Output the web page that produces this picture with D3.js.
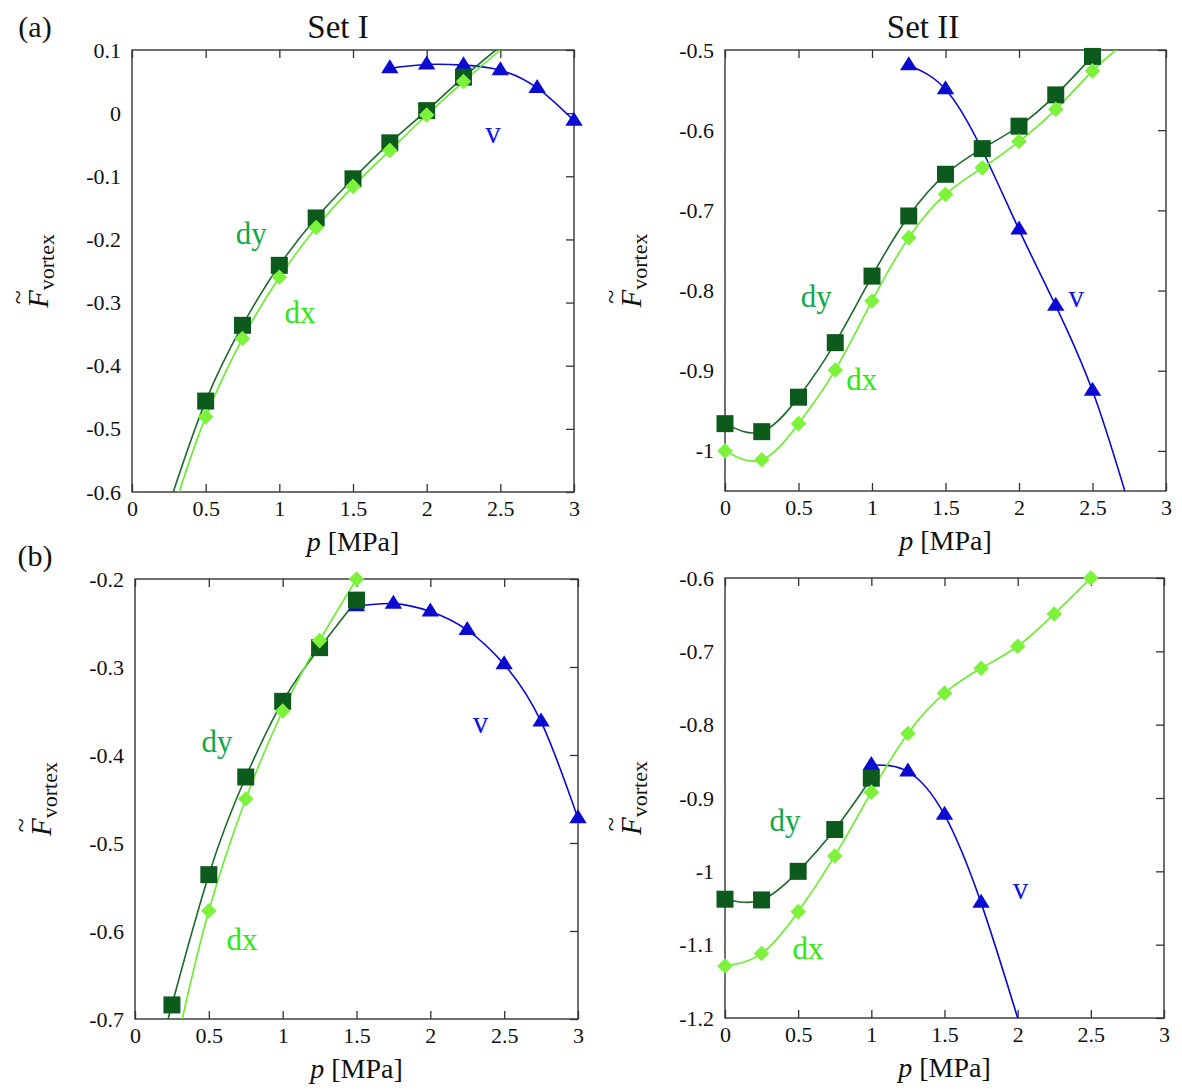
<!DOCTYPE html>
<html>
<head>
<meta charset="utf-8">
<script src="https://cdn.jsdelivr.net/npm/d3@7"></script>
<style>
  body { margin: 0; background: #fff; }
  text { font-family: "Liberation Serif", "Times New Roman", serif; }
</style>
</head>
<body>
<svg id="fig" width="1182" height="1092"></svg>
<script>
// ---- data ----
const xTickValues = [0, 0.5, 1, 1.5, 2, 2.5, 3];
const xTickLabels = ["0", "0.5", "1", "1.5", "2", "2.5", "3"];

// (a) Set I
const aI_yTicks = [0.1, 0, -0.1, -0.2, -0.3, -0.4, -0.5, -0.6];
const aI_yLabels = ["0.1", "0", "-0.1", "-0.2", "-0.3", "-0.4", "-0.5", "-0.6"];
const aI_dy_p = [0.5, 0.75, 1, 1.25, 1.5, 1.75, 2, 2.25];
const aI_dy = [-0.456, -0.336, -0.241, -0.166, -0.104, -0.047, 0.004, 0.057];
const aI_dx_p = [0.5, 0.75, 1, 1.25, 1.5, 1.75, 2, 2.25];
const aI_dx = [-0.481, -0.357, -0.26, -0.181, -0.116, -0.059, -0.003, 0.05];
const aI_v_p = [1.75, 2, 2.25, 2.5, 2.75, 3];
const aI_v = [0.071, 0.077, 0.076, 0.068, 0.04, -0.012];
// where the fitted curves leave the frame
const aI_dy_ends = [[0.28, -0.6], [2.47, 0.1]];
const aI_dx_ends = [[0.32, -0.6], [2.5, 0.1]];

// (a) Set II
const aII_yTicks = [-0.5, -0.6, -0.7, -0.8, -0.9, -1];
const aII_yLabels = ["-0.5", "-0.6", "-0.7", "-0.8", "-0.9", "-1"];
const aII_dy_p = [0, 0.25, 0.5, 0.75, 1, 1.25, 1.5, 1.75, 2, 2.25, 2.5];
const aII_dy = [-0.966, -0.976, -0.933, -0.865, -0.782, -0.707, -0.655, -0.623, -0.595, -0.556, -0.508];
const aII_dx_p = [0, 0.25, 0.5, 0.75, 1, 1.25, 1.5, 1.75, 2, 2.25, 2.5];
const aII_dx = [-1.0, -1.011, -0.966, -0.899, -0.813, -0.734, -0.68, -0.647, -0.614, -0.574, -0.526];
const aII_v_p = [1.25, 1.5, 1.75, 2, 2.25, 2.5];
const aII_v = [-0.519, -0.549, -0.625, -0.724, -0.819, -0.925];
const aII_dy_ends = [null, [2.54, -0.5]];
const aII_dx_ends = [null, [2.66, -0.5]];
const aII_v_ends = [null, [2.72, -1.05]];

// (b) Set I
const bI_yTicks = [-0.2, -0.3, -0.4, -0.5, -0.6, -0.7];
const bI_yLabels = ["-0.2", "-0.3", "-0.4", "-0.5", "-0.6", "-0.7"];
const bI_dy_p = [0.25, 0.5, 0.75, 1, 1.25, 1.5];
const bI_dy = [-0.684, -0.536, -0.425, -0.339, -0.278, -0.224];
const bI_dx_p = [0.5, 0.75, 1, 1.25, 1.5];
const bI_dx = [-0.577, -0.45, -0.35, -0.27, -0.2];
const bI_v_p = [1.5, 1.75, 2, 2.25, 2.5, 2.75, 3];
const bI_v = [-0.231, -0.228, -0.237, -0.258, -0.297, -0.362, -0.472];
const bI_dy_ends = [[0.22, -0.7], null];
const bI_dx_ends = [[0.32, -0.7], null];

// (b) Set II
const bII_yTicks = [-0.6, -0.7, -0.8, -0.9, -1, -1.1, -1.2];
const bII_yLabels = ["-0.6", "-0.7", "-0.8", "-0.9", "-1", "-1.1", "-1.2"];
const bII_dy_p = [0, 0.25, 0.5, 0.75, 1];
const bII_dy = [-1.038, -1.039, -1.0, -0.943, -0.873];
const bII_dx_p = [0, 0.25, 0.5, 0.75, 1, 1.25, 1.5, 1.75, 2, 2.25, 2.5];
const bII_dx = [-1.129, -1.112, -1.055, -0.979, -0.892, -0.812, -0.757, -0.723, -0.693, -0.649, -0.6];
const bII_v_p = [1, 1.25, 1.5, 1.75];
const bII_v = [-0.855, -0.864, -0.923, -1.043];
const bII_v_ends = [null, [2.0, -1.2]];

// ---- styling ----
const serif = '"Liberation Serif", "Times New Roman", serif';
const colDyLine = "#1c6a2c", colDyMark = "#0c5a1c", colDyText = "#10a848";
const colDxLine = "#66ee2a", colDxMark = "#7cf23a", colDxText = "#2ee810";
const colV = "#0a0ad0", colVText = "#1414e0";

const panels = [
  { box: { l: 132, r: 574, t: 50, b: 492 }, yDomain: [-0.6, 0.1], yTicks: aI_yTicks, yLabels: aI_yLabels,
    title: "Set I", titleX: 338, tag: "(a)",
    series: [
      { kind: "v", p: aI_v_p, v: aI_v, ends: [null, null] },
      { kind: "dy", p: aI_dy_p, v: aI_dy, ends: aI_dy_ends },
      { kind: "dx", p: aI_dx_p, v: aI_dx, ends: aI_dx_ends }
    ],
    notes: [{ t: "dy", p: 0.81, v: -0.19 }, { t: "dx", p: 1.14, v: -0.316 }, { t: "v", p: 2.45, v: -0.031 }] },
  { box: { l: 725, r: 1166, t: 50, b: 491 }, yDomain: [-1.05, -0.5], yTicks: aII_yTicks, yLabels: aII_yLabels,
    title: "Set II", titleX: 923,
    series: [
      { kind: "v", p: aII_v_p, v: aII_v, ends: aII_v_ends },
      { kind: "dy", p: aII_dy_p, v: aII_dy, ends: aII_dy_ends },
      { kind: "dx", p: aII_dx_p, v: aII_dx, ends: aII_dx_ends }
    ],
    notes: [{ t: "dy", p: 0.62, v: -0.808 }, { t: "dx", p: 0.93, v: -0.911 }, { t: "v", p: 2.39, v: -0.808 }] },
  { box: { l: 135, r: 578, t: 579, b: 1019 }, yDomain: [-0.7, -0.2], yTicks: bI_yTicks, yLabels: bI_yLabels,
    tag: "(b)",
    series: [
      { kind: "v", p: bI_v_p, v: bI_v, ends: [null, null] },
      { kind: "dy", p: bI_dy_p, v: bI_dy, ends: bI_dy_ends },
      { kind: "dx", p: bI_dx_p, v: bI_dx, ends: bI_dx_ends }
    ],
    notes: [{ t: "dy", p: 0.555, v: -0.385 }, { t: "dx", p: 0.725, v: -0.61 }, { t: "v", p: 2.34, v: -0.3625 }] },
  { box: { l: 725, r: 1164, t: 578, b: 1018 }, yDomain: [-1.2, -0.6], yTicks: bII_yTicks, yLabels: bII_yLabels,
    series: [
      { kind: "v", p: bII_v_p, v: bII_v, ends: bII_v_ends },
      { kind: "dy", p: bII_dy_p, v: bII_dy, ends: [null, null] },
      { kind: "dx", p: bII_dx_p, v: bII_dx, ends: [null, null] }
    ],
    notes: [{ t: "dy", p: 0.41, v: -0.93 }, { t: "dx", p: 0.567, v: -1.105 }, { t: "v", p: 2.02, v: -1.023 }] }
];

const svg = d3.select("#fig");

const markerPath = {
  dy: "M-8.5,-8.5H8.5V8.5H-8.5Z",
  dx: "M0,-7.8L7.8,0L0,7.8L-7.8,0Z",
  v: "M0,-9L8.7,5L-8.7,5Z"
};
const lineCol = { dy: colDyLine, dx: colDxLine, v: colV };
const markCol = { dy: colDyMark, dx: colDxMark, v: colV };
const textCol = { dy: colDyText, dx: colDxText, v: colVText };

panels.forEach((pn, idx) => {
  const { l, r, t, b } = pn.box;
  const x = d3.scaleLinear().domain([0, 3]).range([l, r]);
  const y = d3.scaleLinear().domain(pn.yDomain).range([b, t]);
  const g = svg.append("g");

  const clipId = "clip" + idx;
  g.append("clipPath").attr("id", clipId)
    .append("rect").attr("x", l).attr("y", t).attr("width", r - l).attr("height", b - t);

  // axes: ticks point inward
  const styleAxis = sel => {
    sel.select(".domain").remove();
    sel.attr("font-family", serif).attr("font-size", 22);
    sel.selectAll(".tick line").attr("stroke", "#333").attr("stroke-width", 1.3);
    sel.selectAll(".tick text").attr("fill", "#111").attr("font-family", serif);
  };
  g.append("g").attr("transform", `translate(0,${b})`)
    .call(d3.axisBottom(x).tickValues(xTickValues).tickFormat((d, i) => xTickLabels[i])
      .tickSizeInner(-8).tickSizeOuter(0).tickPadding(8))
    .call(styleAxis);
  g.append("g").attr("transform", `translate(0,${t})`)
    .call(d3.axisTop(x).tickValues(xTickValues).tickFormat("").tickSizeInner(-8).tickSizeOuter(0))
    .call(styleAxis);
  g.append("g").attr("transform", `translate(${r},0)`)
    .call(d3.axisRight(y).tickValues(pn.yTicks).tickFormat("").tickSizeInner(-8).tickSizeOuter(0))
    .call(styleAxis);
  g.append("g").attr("transform", `translate(${l},0)`)
    .call(d3.axisLeft(y).tickValues(pn.yTicks).tickFormat((d, i) => pn.yLabels[i])
      .tickSizeInner(0).tickSizeOuter(0).tickPadding(11))
    .call(styleAxis);

  g.append("rect").attr("x", l).attr("y", t).attr("width", r - l).attr("height", b - t)
    .attr("fill", "none").attr("stroke", "#333").attr("stroke-width", 1.4);

  // axis titles
  const xl = g.append("text").attr("x", (l + r) / 2).attr("y", b + 59)
    .attr("text-anchor", "middle").attr("font-size", 28).attr("fill", "#111");
  xl.append("tspan").attr("font-style", "italic").text("p");
  xl.append("tspan").text(" [MPa]");

  const yg = g.append("g").attr("transform", `translate(${l - 84},${(t + b) / 2}) rotate(-90)`);
  const yl = yg.append("text").attr("x", 0).attr("y", 0).attr("fill", "#111");
  yl.append("tspan").attr("font-style", "italic").attr("font-size", 29).text("F");
  yl.append("tspan").attr("font-size", 22).attr("dy", 6).text("vortex");
  const w = yl.node().getComputedTextLength();
  const fw = yl.node().getSubStringLength(0, 1);
  yl.attr("x", -w / 2);
  yg.append("text").attr("x", -w / 2 + fw / 2 + 2).attr("y", -22).attr("text-anchor", "middle")
    .attr("font-size", 26).attr("fill", "#111").text("~");

  if (pn.title) {
    g.append("text").attr("x", pn.titleX).attr("y", 38).attr("text-anchor", "middle")
      .attr("font-size", 33).attr("fill", "#111").text(pn.title);
  }
  if (pn.tag) {
    g.append("text").attr("x", 35).attr("y", t - 13).attr("text-anchor", "middle")
      .attr("font-size", 30).attr("fill", "#111").text(pn.tag);
  }

  const line = d3.line().x(d => x(d[0])).y(d => y(d[1])).curve(d3.curveNatural);

  // curves first, then markers (v under dy under dx)
  pn.series.forEach(s => {
    let pts = s.p.map((p, i) => [p, s.v[i]]);
    if (s.ends[0]) pts = [s.ends[0]].concat(pts);
    if (s.ends[1]) pts = pts.concat([s.ends[1]]);
    g.append("path").attr("d", line(pts)).attr("fill", "none")
      .attr("stroke", lineCol[s.kind]).attr("stroke-width", 1.6)
      .attr("clip-path", `url(#${clipId})`);
  });
  pn.series.forEach(s => {
    g.append("g").selectAll("path").data(s.p.map((p, i) => [p, s.v[i]])).join("path")
      .attr("d", markerPath[s.kind])
      .attr("transform", d => `translate(${x(d[0])},${y(d[1])})`)
      .attr("fill", markCol[s.kind]);
  });

  pn.notes.forEach(n => {
    g.append("text").attr("x", x(n.p)).attr("y", y(n.v)).attr("text-anchor", "middle")
      .attr("dominant-baseline", "central").attr("font-size", 31)
      .attr("fill", textCol[n.t]).text(n.t);
  });
});
</script>
</body>
</html>
